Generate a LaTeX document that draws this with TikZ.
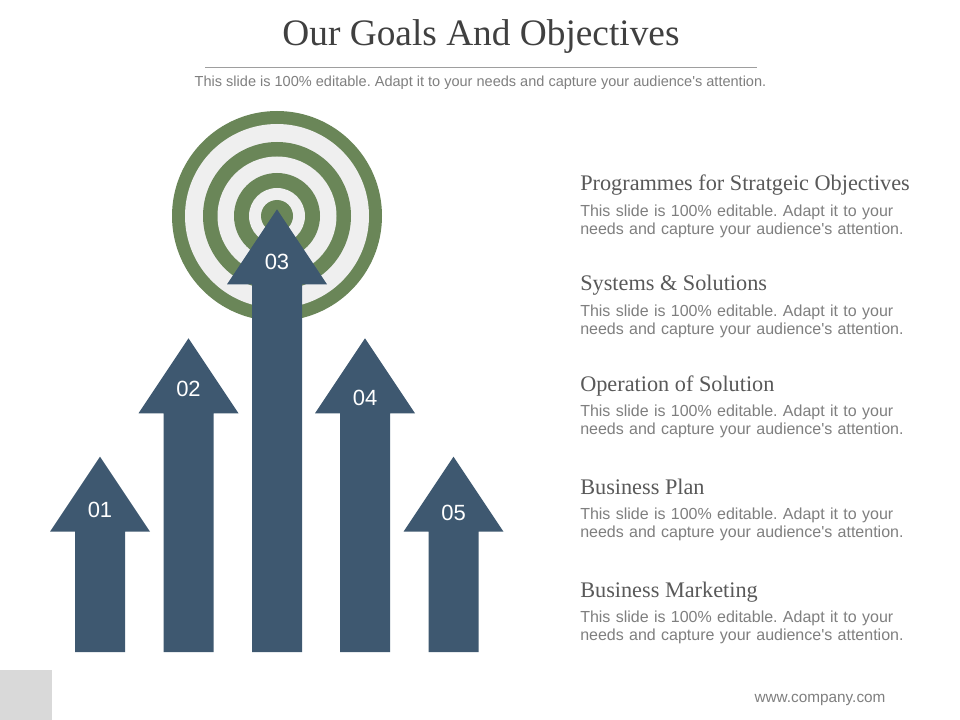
\documentclass[tikz,border=0pt]{standalone}
\usepackage{fontspec}
\setmainfont{Liberation Serif}
\setsansfont{Liberation Sans}
\usetikzlibrary{positioning}
\frenchspacing
\definecolor{goalblue}{HTML}{3E5870}
\definecolor{ringgreen}{HTML}{6A8658}
\definecolor{ringgray}{HTML}{EFEFEF}
\definecolor{titlegray}{HTML}{404040}
\definecolor{headgray}{HTML}{595959}
\definecolor{textgray}{HTML}{7F7F7F}
\definecolor{cornergray}{HTML}{D9D9D9}
\tikzset{
     slidetitle/.style={
           inner sep=0pt,
           text=titlegray,
           font=\fontsize{28}{30}\selectfont,
           },
     subtitle/.style={
           inner sep=0pt,
           text=textgray,
           font=\sffamily\fontsize{10.9}{12}\selectfont,
           },
     heading/.style={
           inner sep=0pt,
           anchor=base west,
           text=headgray,
           font=\fontsize{16.7}{18}\selectfont,
           },
     body/.style={
           inner sep=0pt,
           text width=250pt,
           align=left,
           text=textgray,
           font=\sffamily\fontsize{12}{13.9}\selectfont,
           },
     number/.style={
           inner sep=0pt,
           text=white,
           font=\sffamily\fontsize{16.5}{18}\selectfont,
           },
}
% one up arrow: #1 centre x, #2 tip y
\newcommand{\goalarrow}[2]{%
  \fill[goalblue] (#1,#2) -- (#1+50,#2+75) -- (#1+25,#2+75) -- (#1+25,652)
    -- (#1-25,652) -- (#1-25,#2+75) -- (#1-50,#2+75) -- cycle;}
\newcommand{\bodytext}{This slide is 100\% editable. Adapt it to your\\ needs and capture your audience\textquotesingle s attention.}
\begin{document}
\begin{tikzpicture}[x=0.75pt,y=-0.75pt]
	\useasboundingbox[fill=white] (0,0) rectangle (960,720);
	% title
	\node[slidetitle, anchor=base] (title) at (481,45.7) {Our Goals And Objectives};
	\coordinate (ruleL) at (205,67.5);
	\coordinate (ruleR) at (757,67.5);
	\draw[black!38, line width=0.8pt] (ruleL) -- (ruleR);
	\node[subtitle, anchor=base] (sub) at (480.5,86.7) {This slide is 100\% editable. Adapt it to your needs and capture your audience\textquotesingle s attention.};
	
	% target
	\coordinate (target) at (277,216);
	\foreach \r/\c in {105/ringgreen, 92/ringgray, 74/ringgreen, 59.5/ringgray, 43/ringgreen, 28/ringgray, 16/ringgreen}
		\fill[\c] (target) circle (\r);
	
	% arrows
	\goalarrow{100}{456.7}
	\goalarrow{188.5}{338.3}
	\goalarrow{277}{209.3}
	\goalarrow{365}{338.3}
	\goalarrow{453.5}{456.7}
	\node[number] (n1) at (100,510) {01};
	\node[number] (n2) at (188.5,389) {02};
	\node[number] (n3) at (277,262) {03};
	\node[number] (n4) at (365,398) {04};
	\node[number] (n5) at (453.5,513) {05};
	
	% objectives
	\node[heading] (h1) at (580,191) {Programmes for Stratgeic Objectives};
	\node[body, below right=10pt and 0pt of h1.base west] (b1) {\bodytext};
	\node[heading] (h2) at (580,291) {Systems \& Solutions};
	\node[body, below right=10pt and 0pt of h2.base west] (b2) {\bodytext};
	\node[heading] (h3) at (580,391) {Operation of Solution};
	\node[body, below right=10pt and 0pt of h3.base west] (b3) {\bodytext};
	\node[heading] (h4) at (580,494) {Business Plan};
	\node[body, below right=10pt and 0pt of h4.base west] (b4) {\bodytext};
	\node[heading] (h5) at (580,597) {Business Marketing};
	\node[body, below right=10pt and 0pt of h5.base west] (b5) {\bodytext};
	
	% footer
	\fill[cornergray] (0,670) rectangle (52,720);
	\node[subtitle, font=\sffamily\fontsize{11.5}{13}\selectfont] (web) at (820,700) {www.company.com};
\end{tikzpicture}
\end{document}
